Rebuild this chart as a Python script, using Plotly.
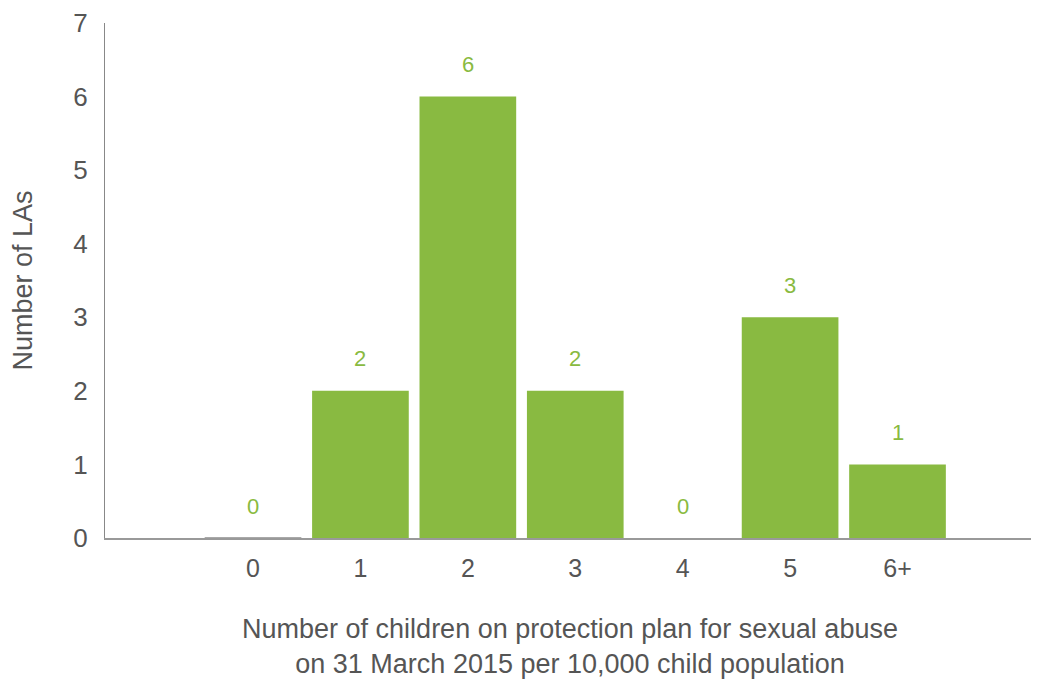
import plotly.graph_objects as go

categories = ["0", "1", "2", "3", "4", "5", "6+"]
values = [0, 2, 6, 2, 0, 3, 1]
y_ticks = [0, 1, 2, 3, 4, 5, 6, 7]

GREEN = "#89ba41"
GREY = "#555555"
FONT = "Liberation Sans, Arial, Helvetica, sans-serif"

line_colors = ["#555555" if i == 0 else GREEN for i in range(len(values))]
line_widths = [1.2 if i == 0 else 0 for i in range(len(values))]

fig = go.Figure()
fig.add_trace(go.Bar(
    x=list(range(len(categories))),
    y=values,
    width=0.9,
    marker=dict(color=GREEN, line=dict(color=line_colors, width=line_widths)),
    hoverinfo="skip",
))

for i, v in enumerate(values):
    fig.add_annotation(x=i, y=v, xref="x", yref="y", text=str(v), showarrow=False,
                       yshift=32, yanchor="middle",
                       font=dict(family=FONT, size=22, color=GREEN))

fig.update_layout(
    width=1039, height=679,
    margin=dict(l=97, r=12, t=15, b=149),
    plot_bgcolor="white", paper_bgcolor="white",
    showlegend=False,
    font=dict(family=FONT, color=GREY),
    bargap=0.1,
)
fig.update_xaxes(
    tickmode="array", tickvals=list(range(len(categories))), ticktext=categories,
    range=[-1.378, 7.28],
    showgrid=False, zeroline=False,
    showline=True, linecolor="#999999", linewidth=1.5,
    ticks="", ticklabelstandoff=7, tickfont=dict(family=FONT, size=25, color=GREY),
    title=dict(text="Number of children on protection plan for sexual abuse<br>on 31 March 2015 per 10,000 child population",
               font=dict(family=FONT, size=27, color=GREY), standoff=38),
)
fig.update_yaxes(
    range=[0, 7], tickmode="array", tickvals=y_ticks,
    showgrid=False, zeroline=False, automargin=False,
    showline=True, linecolor="#888888", linewidth=1,
    ticks="", ticklabelstandoff=11, ticklabeloverflow="allow",
    tickfont=dict(family=FONT, size=26, color=GREY),
    title=dict(text="Number of LAs", font=dict(family=FONT, size=27, color=GREY), standoff=32),
)

fig.write_html("out.html")
